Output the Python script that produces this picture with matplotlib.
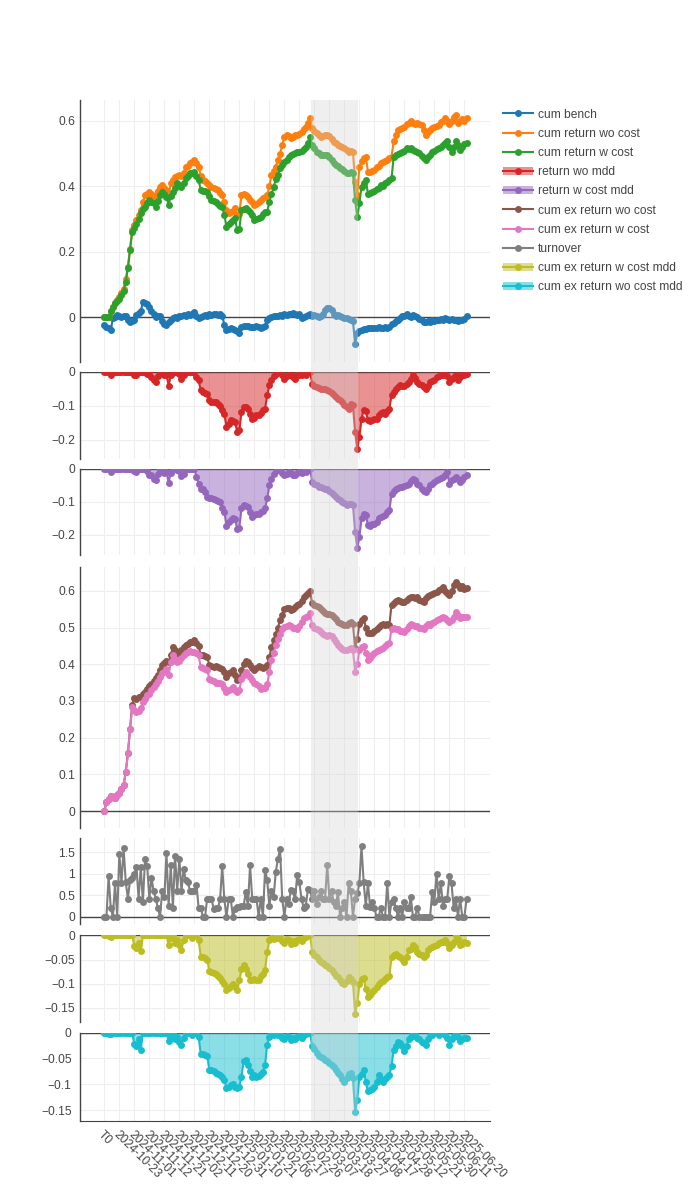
import numpy as np
import matplotlib
matplotlib.use('Agg')
import matplotlib.pyplot as plt
from matplotlib.lines import Line2D
from matplotlib.patches import Patch, Rectangle
from matplotlib.transforms import blended_transform_factory

plt.rcParams['font.family'] = ['Liberation Sans', 'DejaVu Sans']

tick_labels = ['T0', '2024-10-23', '2024-11-01', '2024-11-12', '2024-11-21', '2024-12-02',
               '2024-12-11', '2024-12-20', '2024-12-31', '2025-01-10', '2025-01-21',
               '2025-02-06', '2025-02-17', '2025-02-26', '2025-03-07', '2025-03-18',
               '2025-03-27', '2025-04-08', '2025-04-17', '2025-04-28', '2025-05-12',
               '2025-05-21', '2025-05-30', '2025-06-11', '2025-06-20']
tick_step = 7

cum_bench = [
    -0.024, -0.030, -0.034, -0.040, -0.004, 0.000, 0.006, 0.004, 0.000, 0.002,
    0.004, -0.010, -0.015, -0.012, -0.008, 0.006, 0.012, 0.017, 0.047, 0.044,
    0.040, 0.030, 0.018, 0.010, 0.000, 0.004, 0.002, -0.012, -0.020, -0.024,
    -0.016, -0.010, -0.004, 0.000, -0.002, 0.004, 0.002, 0.006, 0.004, 0.008,
    0.006, 0.010, 0.014, 0.004, -0.004, 0.000, 0.002, 0.006, 0.004, 0.008,
    0.006, 0.008, 0.010, 0.006, 0.008, 0.004, -0.024, -0.040, -0.036, -0.034,
    -0.038, -0.040, -0.044, -0.050, -0.030, -0.028, -0.026, -0.026, -0.030, -0.032,
    -0.030, -0.028, -0.032, -0.034, -0.030, -0.026, -0.010, -0.004, 0.000, 0.002,
    0.004, 0.002, 0.006, 0.004, 0.008, 0.006, 0.010, 0.008, 0.012, 0.008,
    0.006, 0.010, -0.004, 0.000, 0.004, 0.006, 0.008, 0.004, 0.006, 0.002,
    0.000, 0.004, 0.010, 0.020, 0.026, 0.026, 0.020, 0.010, 0.004, 0.006,
    0.002, 0.000, -0.002, -0.004, -0.006, -0.010, -0.012, -0.083, -0.050, -0.044,
    -0.040, -0.038, -0.036, -0.035, -0.034, -0.034, -0.033, -0.034, -0.032, -0.033,
    -0.034, -0.032, -0.034, -0.030, -0.022, -0.018, -0.012, -0.008, -0.002, 0.004,
    0.002, 0.010, 0.004, 0.000, 0.006, 0.004, 0.000, -0.006, -0.010, -0.014,
    -0.015, -0.012, -0.014, -0.010, -0.012, -0.008, -0.010, -0.006, -0.008, -0.004,
    -0.006, -0.008, -0.006, -0.010, -0.008, -0.012, -0.008, -0.010, -0.006, 0.004]

cum_return_wo_cost = [
    0.000, 0.000, 0.000, 0.018, 0.030, 0.044, 0.052, 0.060, 0.072, 0.087,
    0.115, 0.154, 0.209, 0.265, 0.280, 0.295, 0.310, 0.327, 0.350, 0.372,
    0.377, 0.382, 0.375, 0.367, 0.372, 0.385, 0.397, 0.403, 0.395, 0.388,
    0.370, 0.408, 0.418, 0.428, 0.432, 0.434, 0.430, 0.440, 0.459, 0.462,
    0.469, 0.474, 0.479, 0.470, 0.459, 0.430, 0.418, 0.415, 0.408, 0.404,
    0.397, 0.395, 0.392, 0.388, 0.380, 0.372, 0.350, 0.327, 0.318, 0.320,
    0.325, 0.332, 0.311, 0.315, 0.372, 0.375, 0.372, 0.365, 0.357, 0.350,
    0.342, 0.346, 0.352, 0.357, 0.362, 0.367, 0.372, 0.400, 0.434, 0.445,
    0.459, 0.480, 0.499, 0.525, 0.550, 0.556, 0.552, 0.546, 0.550, 0.555,
    0.556, 0.560, 0.566, 0.575, 0.581, 0.592, 0.607, 0.576, 0.568, 0.561,
    0.556, 0.550, 0.553, 0.556, 0.556, 0.552, 0.545, 0.535, 0.530, 0.525,
    0.522, 0.518, 0.515, 0.510, 0.505, 0.508, 0.505, 0.413, 0.372, 0.459,
    0.475, 0.484, 0.490, 0.444, 0.444, 0.446, 0.450, 0.458, 0.462, 0.469,
    0.472, 0.476, 0.479, 0.485, 0.490, 0.536, 0.555, 0.571, 0.575, 0.578,
    0.581, 0.588, 0.592, 0.597, 0.593, 0.590, 0.592, 0.590, 0.587, 0.570,
    0.556, 0.565, 0.572, 0.576, 0.580, 0.584, 0.587, 0.595, 0.600, 0.607,
    0.600, 0.590, 0.600, 0.612, 0.617, 0.591, 0.600, 0.605, 0.600, 0.607]

cum_return_w_cost = [
    0.000, 0.000, 0.000, 0.018, 0.030, 0.042, 0.050, 0.056, 0.067, 0.080,
    0.108, 0.149, 0.205, 0.260, 0.271, 0.283, 0.300, 0.317, 0.330, 0.337,
    0.348, 0.357, 0.352, 0.347, 0.337, 0.355, 0.372, 0.382, 0.375, 0.367,
    0.342, 0.370, 0.382, 0.395, 0.408, 0.402, 0.398, 0.410, 0.423, 0.430,
    0.439, 0.441, 0.444, 0.430, 0.418, 0.388, 0.386, 0.384, 0.382, 0.370,
    0.357, 0.355, 0.352, 0.346, 0.340, 0.337, 0.311, 0.276, 0.284, 0.291,
    0.296, 0.301, 0.265, 0.268, 0.327, 0.330, 0.332, 0.328, 0.322, 0.310,
    0.296, 0.300, 0.303, 0.306, 0.316, 0.320, 0.322, 0.352, 0.375, 0.398,
    0.420, 0.434, 0.455, 0.465, 0.472, 0.480, 0.488, 0.495, 0.498, 0.500,
    0.505, 0.505, 0.508, 0.512, 0.520, 0.530, 0.551, 0.525, 0.515, 0.505,
    0.500, 0.496, 0.494, 0.496, 0.494, 0.488, 0.479, 0.470, 0.464, 0.460,
    0.456, 0.452, 0.446, 0.439, 0.441, 0.443, 0.439, 0.357, 0.306, 0.347,
    0.398, 0.410, 0.418, 0.377, 0.380, 0.382, 0.385, 0.390, 0.395, 0.403,
    0.400, 0.408, 0.413, 0.418, 0.423, 0.489, 0.495, 0.497, 0.500, 0.505,
    0.508, 0.515, 0.512, 0.515, 0.510, 0.507, 0.505, 0.500, 0.492, 0.485,
    0.479, 0.488, 0.495, 0.505, 0.508, 0.512, 0.515, 0.520, 0.525, 0.530,
    0.536, 0.520, 0.505, 0.520, 0.536, 0.525, 0.510, 0.520, 0.528, 0.532]

return_wo_mdd = [
    0, 0, 0, -0.010, 0, 0, 0, 0, 0, 0,
    0, 0, 0, 0, -0.008, -0.010, 0, 0, 0, 0,
    -0.005, 0, -0.014, -0.024, -0.030, -0.012, 0, 0, -0.010, -0.008,
    -0.040, -0.010, 0, 0, 0, -0.005, -0.020, -0.010, 0, 0,
    0, 0, 0, -0.015, -0.025, -0.054, -0.059, -0.062, -0.064, -0.084,
    -0.089, -0.089, -0.090, -0.094, -0.100, -0.113, -0.123, -0.163, -0.153, -0.143,
    -0.145, -0.148, -0.177, -0.172, -0.118, -0.103, -0.105, -0.108, -0.125, -0.138,
    -0.135, -0.128, -0.128, -0.120, -0.113, -0.108, -0.069, -0.039, -0.025, -0.012,
    -0.005, 0, 0, -0.010, -0.020, -0.012, -0.008, -0.010, -0.015, -0.020,
    -0.010, -0.008, -0.010, -0.005, -0.008, 0, 0, -0.035, -0.040, -0.044,
    -0.046, -0.049, -0.050, -0.050, -0.052, -0.055, -0.062, -0.069, -0.074, -0.079,
    -0.084, -0.089, -0.099, -0.104, -0.108, -0.094, -0.098, -0.178, -0.227, -0.192,
    -0.138, -0.112, -0.115, -0.143, -0.145, -0.143, -0.140, -0.138, -0.128, -0.120,
    -0.117, -0.123, -0.115, -0.108, -0.069, -0.059, -0.050, -0.045, -0.039, -0.042,
    -0.040, -0.035, -0.030, -0.020, -0.010, -0.018, -0.030, -0.035, -0.039, -0.045,
    -0.049, -0.040, -0.030, -0.028, -0.025, -0.015, -0.012, -0.010, -0.008, -0.005,
    -0.012, -0.030, -0.020, -0.015, -0.010, -0.025, -0.015, -0.010, -0.008, -0.005]

return_w_cost_mdd = [
    0, 0, 0, -0.010, 0, 0, 0, 0, 0, 0,
    0, 0, 0, 0, -0.008, -0.010, 0, 0, 0, 0,
    -0.008, -0.020, -0.018, -0.030, -0.035, -0.015, 0, 0, -0.012, -0.010,
    -0.042, -0.012, 0, 0, -0.004, -0.008, -0.022, -0.015, 0, 0,
    0, 0, 0, -0.025, -0.045, -0.060, -0.062, -0.070, -0.085, -0.090,
    -0.088, -0.092, -0.095, -0.098, -0.100, -0.120, -0.130, -0.172, -0.162, -0.155,
    -0.150, -0.152, -0.182, -0.178, -0.120, -0.110, -0.112, -0.115, -0.130, -0.146,
    -0.140, -0.136, -0.138, -0.132, -0.128, -0.120, -0.090, -0.050, -0.030, -0.015,
    -0.008, 0, 0, -0.012, -0.020, -0.015, -0.010, -0.012, -0.018, -0.020,
    -0.012, -0.010, -0.012, -0.008, -0.010, -0.004, 0, -0.040, -0.045, -0.050,
    -0.055, -0.056, -0.058, -0.060, -0.062, -0.068, -0.075, -0.080, -0.086, -0.092,
    -0.096, -0.100, -0.105, -0.110, -0.108, -0.106, -0.110, -0.190, -0.240, -0.207,
    -0.150, -0.136, -0.140, -0.170, -0.172, -0.168, -0.166, -0.160, -0.150, -0.145,
    -0.142, -0.140, -0.132, -0.126, -0.076, -0.068, -0.060, -0.058, -0.055, -0.056,
    -0.052, -0.050, -0.045, -0.038, -0.030, -0.035, -0.045, -0.050, -0.060, -0.068,
    -0.070, -0.060, -0.050, -0.045, -0.040, -0.035, -0.030, -0.028, -0.025, -0.020,
    -0.010, -0.045, -0.035, -0.030, -0.025, -0.030, -0.040, -0.035, -0.025, -0.020]

cum_ex_return_wo_cost = [
    0.000, 0.025, 0.032, 0.040, 0.038, 0.036, 0.045, 0.050, 0.060, 0.071,
    0.107, 0.157, 0.225, 0.290, 0.307, 0.305, 0.311, 0.310, 0.318, 0.325,
    0.333, 0.340, 0.347, 0.355, 0.362, 0.370, 0.385, 0.397, 0.403, 0.410,
    0.405, 0.425, 0.447, 0.440, 0.430, 0.428, 0.440, 0.447, 0.452, 0.456,
    0.460, 0.462, 0.465, 0.458, 0.450, 0.424, 0.424, 0.422, 0.420, 0.397,
    0.395, 0.393, 0.395, 0.392, 0.390, 0.388, 0.380, 0.366, 0.375, 0.380,
    0.384, 0.370, 0.356, 0.362, 0.384, 0.400, 0.410, 0.405, 0.398, 0.390,
    0.384, 0.390, 0.395, 0.392, 0.390, 0.393, 0.397, 0.420, 0.447, 0.465,
    0.483, 0.500, 0.520, 0.535, 0.550, 0.553, 0.552, 0.548, 0.550, 0.556,
    0.561, 0.565, 0.572, 0.584, 0.590, 0.595, 0.600, 0.566, 0.562, 0.558,
    0.555, 0.550, 0.545, 0.539, 0.538, 0.536, 0.534, 0.530, 0.522, 0.516,
    0.512, 0.510, 0.507, 0.508, 0.512, 0.516, 0.510, 0.443, 0.470, 0.510,
    0.520, 0.525, 0.500, 0.484, 0.486, 0.486, 0.490, 0.495, 0.502, 0.506,
    0.511, 0.508, 0.510, 0.507, 0.561, 0.568, 0.572, 0.575, 0.572, 0.570,
    0.570, 0.575, 0.580, 0.584, 0.582, 0.580, 0.582, 0.575, 0.572, 0.570,
    0.580, 0.585, 0.589, 0.592, 0.595, 0.598, 0.602, 0.606, 0.611, 0.600,
    0.595, 0.589, 0.600, 0.615, 0.625, 0.615, 0.607, 0.612, 0.605, 0.607]

cum_ex_return_w_cost = [
    0.000, 0.025, 0.032, 0.040, 0.038, 0.036, 0.045, 0.050, 0.060, 0.071,
    0.107, 0.157, 0.225, 0.284, 0.275, 0.270, 0.272, 0.280, 0.297, 0.305,
    0.315, 0.320, 0.330, 0.338, 0.347, 0.355, 0.365, 0.375, 0.380, 0.388,
    0.370, 0.405, 0.424, 0.415, 0.406, 0.410, 0.418, 0.424, 0.430, 0.433,
    0.435, 0.433, 0.433, 0.430, 0.424, 0.392, 0.390, 0.388, 0.385, 0.361,
    0.358, 0.355, 0.350, 0.350, 0.348, 0.347, 0.335, 0.324, 0.330, 0.334,
    0.337, 0.330, 0.324, 0.330, 0.360, 0.372, 0.379, 0.372, 0.365, 0.358,
    0.350, 0.345, 0.340, 0.333, 0.335, 0.336, 0.345, 0.380, 0.411, 0.430,
    0.452, 0.468, 0.483, 0.495, 0.501, 0.505, 0.507, 0.503, 0.500, 0.498,
    0.497, 0.505, 0.515, 0.525, 0.528, 0.532, 0.539, 0.507, 0.500, 0.495,
    0.493, 0.488, 0.482, 0.479, 0.478, 0.479, 0.478, 0.470, 0.460, 0.452,
    0.448, 0.442, 0.439, 0.440, 0.442, 0.443, 0.440, 0.380, 0.402, 0.440,
    0.448, 0.450, 0.430, 0.411, 0.418, 0.425, 0.430, 0.435, 0.439, 0.442,
    0.445, 0.450, 0.455, 0.457, 0.497, 0.500, 0.497, 0.495, 0.492, 0.490,
    0.488, 0.495, 0.505, 0.511, 0.508, 0.505, 0.503, 0.500, 0.498, 0.497,
    0.505, 0.510, 0.508, 0.512, 0.515, 0.520, 0.522, 0.525, 0.530, 0.525,
    0.520, 0.516, 0.520, 0.530, 0.543, 0.535, 0.525, 0.528, 0.530, 0.530]

turnover = [
    0, 0, 0.95, 0.20, 0, 0.78, 0, 1.47, 0.78, 1.60,
    0.80, 0.42, 0.85, 0.90, 1.00, 1.15, 0.42, 1.15, 0.35, 1.35,
    1.18, 0.42, 0.90, 0.60, 0.42, 0.20, 0, 0.60, 0.45, 1.48,
    0.25, 1.20, 0.20, 1.42, 0.60, 1.35, 0.60, 1.12, 0.85, 0.80,
    0.60, 0.60, 0.60, 0.75, 0.20, 0.20, 0, 0, 0.42, 0.42,
    0.42, 0.18, 0.20, 0.20, 0.40, 1.18, 0.40, 0, 0.40, 0.40,
    0, 0.18, 0.22, 0.22, 0.25, 0.25, 0.58, 0.25, 1.20, 0.42,
    0.42, 0.42, 0, 0.42, 0, 1.10, 0.85, 0.25, 0.60, 0.45,
    1.05, 1.35, 1.58, 0.42, 0, 0.42, 0.30, 0.62, 0.60, 0.40,
    0.98, 0.80, 0.42, 0.20, 0.25, 0.65, 0.62, 0.40, 0.60, 0.30,
    0.45, 0.60, 0.40, 0.42, 1.20, 0.42, 0.60, 0.35, 0.25, 0.58,
    0, 0.20, 0.35, 0, 0.78, 0.60, 0, 0.42, 0.55, 0.78,
    1.65, 0.80, 0.25, 0.78, 0.22, 0.35, 0.20, 0, 0, 0.20,
    0, 0, 0.78, 0, 0.35, 0.40, 0.20, 0, 0.20, 0,
    0.35, 0.20, 0.20, 0.45, 0, 0, 0.20, 0, 0, 0,
    0, 0, 0, 0.58, 0.35, 1.00, 0.40, 0.78, 0.25, 0.42,
    0.42, 0.95, 0.78, 0.20, 0.42, 0, 0.42, 0, 0, 0.40]

cum_ex_return_w_cost_mdd = [
    0, 0, -0.002, -0.003, 0, 0, 0, 0, 0, 0,
    0, 0, 0, 0, -0.022, -0.026, -0.015, -0.033, 0, 0,
    0, 0, 0, 0, 0, 0, 0, 0, 0, 0,
    -0.020, -0.005, 0, -0.015, -0.010, -0.020, -0.030, -0.010, 0, 0,
    0, -0.005, 0, 0, -0.010, -0.044, -0.045, -0.046, -0.050, -0.074,
    -0.076, -0.078, -0.080, -0.085, -0.088, -0.095, -0.100, -0.113, -0.108, -0.104,
    -0.100, -0.106, -0.113, -0.093, -0.070, -0.062, -0.069, -0.080, -0.093, -0.093,
    -0.090, -0.093, -0.092, -0.085, -0.079, -0.072, -0.034, -0.010, -0.005, -0.008,
    0, -0.005, 0, -0.012, -0.015, -0.008, -0.010, -0.018, -0.012, -0.015,
    -0.010, -0.008, -0.012, -0.005, -0.004, 0, 0, -0.034, -0.040, -0.045,
    -0.051, -0.055, -0.058, -0.061, -0.064, -0.068, -0.072, -0.078, -0.083, -0.086,
    -0.092, -0.098, -0.100, -0.095, -0.086, -0.090, -0.096, -0.162, -0.140, -0.100,
    -0.090, -0.088, -0.110, -0.127, -0.123, -0.118, -0.112, -0.106, -0.100, -0.097,
    -0.094, -0.090, -0.086, -0.084, -0.045, -0.040, -0.038, -0.042, -0.045, -0.048,
    -0.055, -0.045, -0.031, -0.028, -0.021, -0.025, -0.034, -0.038, -0.040, -0.045,
    -0.040, -0.030, -0.027, -0.025, -0.022, -0.020, -0.016, -0.014, -0.013, -0.010,
    -0.015, -0.027, -0.020, -0.013, 0, -0.008, -0.020, -0.017, -0.014, -0.015]

cum_ex_return_wo_cost_mdd = [
    0, 0, -0.002, -0.003, 0, 0, 0, 0, 0, 0,
    0, 0, 0, 0, -0.022, -0.026, -0.012, -0.033, 0, 0,
    0, 0, 0, 0, 0, 0, 0, 0, 0, 0,
    -0.017, -0.005, 0, -0.012, -0.008, -0.018, -0.024, -0.010, 0, 0,
    0, -0.004, 0, 0, -0.008, -0.042, -0.042, -0.043, -0.045, -0.072,
    -0.073, -0.075, -0.078, -0.080, -0.082, -0.086, -0.092, -0.108, -0.105, -0.102,
    -0.100, -0.105, -0.108, -0.105, -0.085, -0.055, -0.052, -0.062, -0.075, -0.085,
    -0.082, -0.085, -0.084, -0.080, -0.076, -0.062, -0.023, -0.008, 0, -0.005,
    0, -0.004, 0, -0.010, -0.012, -0.006, -0.008, -0.014, -0.010, -0.012,
    -0.008, -0.006, -0.010, -0.004, -0.003, 0, 0, -0.026, -0.032, -0.040,
    -0.045, -0.048, -0.050, -0.052, -0.055, -0.058, -0.062, -0.066, -0.072, -0.078,
    -0.082, -0.090, -0.095, -0.088, -0.080, -0.078, -0.088, -0.153, -0.130, -0.085,
    -0.080, -0.072, -0.095, -0.114, -0.112, -0.110, -0.105, -0.095, -0.082, -0.090,
    -0.095, -0.090, -0.085, -0.082, -0.065, -0.033, -0.025, -0.018, -0.020, -0.026,
    -0.036, -0.025, -0.013, -0.008, 0, -0.005, -0.010, -0.013, -0.018, -0.020,
    -0.023, -0.012, -0.006, -0.004, 0, 0, -0.005, 0, 0, -0.004,
    -0.010, -0.023, -0.012, -0.006, 0, -0.008, -0.016, -0.012, -0.010, -0.010]

# shaded period (category index)
shade_start, shade_end = 96.45, 118.25

x = np.arange(len(cum_bench))
C = ['#1f77b4', '#ff7f0e', '#2ca02c', '#d62728', '#9467bd',
     '#8c564b', '#e377c2', '#7f7f7f', '#bcbd22', '#17becf']
TXT = '#444444'
FS = 8.64
LW, MS = 1.5, 5.0

fig = plt.figure(figsize=(7, 12), dpi=100)
W, H = 700.0, 1200.0
XL, XR = 80.0, 490.0


def px_axes(top, bottom):
    return fig.add_axes([XL / W, 1 - bottom / H, (XR - XL) / W, (bottom - top) / H])


def style(ax, yt, ylab, ylim):
    ax.set_xlim(-11.35, 179.95)
    ax.set_ylim(*ylim)
    ax.set_xticks(np.arange(0, len(tick_labels) * tick_step, tick_step))
    ax.set_yticks(yt)
    ax.set_yticklabels(ylab)
    ax.grid(True, color='#eeeeee', lw=0.75)
    ax.set_axisbelow(True)
    for s in ['top', 'right', 'bottom']:
        ax.spines[s].set_visible(False)
    ax.spines['left'].set_color(TXT)
    ax.spines['left'].set_linewidth(1)
    ax.tick_params(length=0, pad=3.5, labelsize=FS, labelcolor=TXT, labelbottom=False)
    ax.axhline(0, color=TXT, lw=1, zorder=1.5)


handles = []
labels = []


def line(ax, y, color, name, fill=False):
    ax.plot(x, y, '-o', color=color, lw=LW, ms=MS, mew=0, zorder=3)
    mark = Line2D([], [], color=color, lw=LW, marker='o', ms=MS, mew=0)
    if fill:
        ax.fill_between(x, y, 0, color=color, alpha=0.5, lw=0, zorder=2)
        handles.append((Patch(facecolor=color, alpha=0.5, lw=0), mark))
    else:
        handles.append(mark)
    labels.append(name)


ax1 = px_axes(100, 362)
line(ax1, cum_bench, C[0], 'cum bench')
line(ax1, cum_return_wo_cost, C[1], 'cum return wo cost')
line(ax1, cum_return_w_cost, C[2], 'cum return w cost')
style(ax1, [0, 0.2, 0.4, 0.6], ['0', '0.2', '0.4', '0.6'], (-0.1374, 0.6626))

ax2 = px_axes(372, 458.7)
line(ax2, return_wo_mdd, C[3], 'return wo mdd', fill=True)
style(ax2, [-0.2, -0.1, 0], ['\u22120.2', '\u22120.1', '0'], (-0.2565, 0))

ax3 = px_axes(468.7, 555.3)
line(ax3, return_w_cost_mdd, C[4], 'return w cost mdd', fill=True)
style(ax3, [-0.2, -0.1, 0], ['\u22120.2', '\u22120.1', '0'], (-0.262, 0))

ax4 = px_axes(567, 828)
line(ax4, cum_ex_return_wo_cost, C[5], 'cum ex return wo cost')
line(ax4, cum_ex_return_w_cost, C[6], 'cum ex return w cost')
style(ax4, [0, 0.1, 0.2, 0.3, 0.4, 0.5, 0.6],
      ['0', '0.1', '0.2', '0.3', '0.4', '0.5', '0.6'], (-0.046, 0.665))

ax5 = px_axes(838.3, 924.3)
line(ax5, turnover, C[7], 'turnover')
style(ax5, [0, 0.5, 1, 1.5], ['0', '0.5', '1', '1.5'], (-0.18, 1.83))

ax6 = px_axes(935.3, 1022)
line(ax6, cum_ex_return_w_cost_mdd, C[8], 'cum ex return w cost mdd', fill=True)
style(ax6, [-0.15, -0.1, -0.05, 0], ['\u22120.15', '\u22120.1', '\u22120.05', '0'], (-0.179, 0))

ax7 = px_axes(1032.7, 1120.7)
line(ax7, cum_ex_return_wo_cost_mdd, C[9], 'cum ex return wo cost mdd', fill=True)
style(ax7, [-0.15, -0.1, -0.05, 0], ['\u22120.15', '\u22120.1', '\u22120.05', '0'], (-0.1707, 0))
ax7.spines['bottom'].set_visible(True)
ax7.spines['bottom'].set_color(TXT)
ax7.tick_params(labelbottom=True, pad=6)
ax7.set_xticklabels(tick_labels, rotation=-45, ha='left', va='top', rotation_mode='anchor')

# highlighted period drawn above all panels
tr = blended_transform_factory(ax7.transData, fig.transFigure)
fig.add_artist(Rectangle((shade_start, 1 - 1120.7 / H), shade_end - shade_start,
                         (1120.7 - 100) / H, transform=tr, facecolor='#d3d3d3',
                         alpha=0.35, lw=0, zorder=10))

fig.legend(handles, labels, loc='upper left', bbox_to_anchor=(503 / W, 1 - 108.5 / H),
           frameon=False, fontsize=FS, labelcolor=TXT, handlelength=2.5,
           handletextpad=0.4, labelspacing=0.6, borderpad=0, borderaxespad=0)

fig.savefig('out.png', dpi=100)
